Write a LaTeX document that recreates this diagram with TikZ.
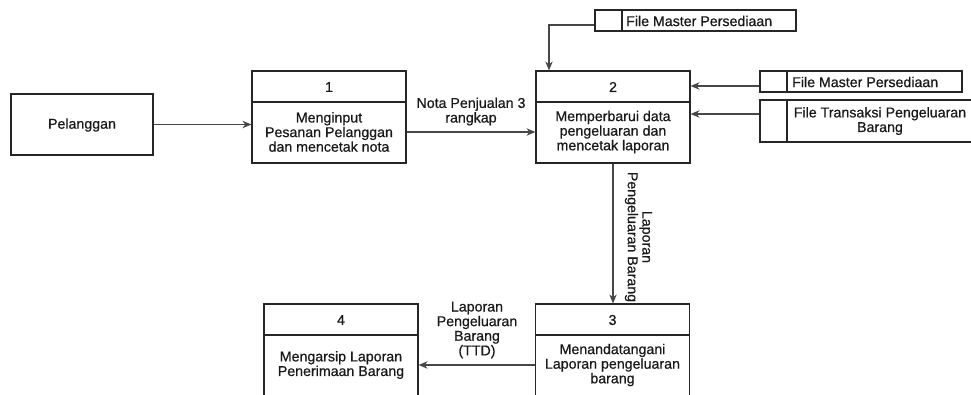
\documentclass[tikz,border=0pt]{standalone}
\usepackage{fontspec}
\setmainfont{Liberation Sans}[FakeBold=0.6]
\usetikzlibrary{arrows.meta,calc}
\tikzset{
  base/.style={font=\fontsize{14.2}{14.6}\selectfont, text=black!90, inner sep=0pt},
  boxline/.style={draw=black!85, line width=1.2pt},
  proc/.style={boxline, rectangle, minimum width=154pt, minimum height=92pt, inner sep=0pt},
  ext/.style={boxline, rectangle, minimum width=142pt, minimum height=61pt, inner sep=0pt},
  store/.style={boxline, rectangle, inner sep=0pt},
  lbl/.style={base, align=center},
  conn/.style={draw=black!72, line width=1.1pt, -{Stealth[length=9pt,width=7.5pt]}}
}
\begin{document}
\begin{tikzpicture}[x=1pt,y=-1pt]
\clip (0,0) rectangle (971,394);
\fill[white] (0,0) rectangle (971,394);

% external entity
\node[ext] (pel) at (82,124.5) {};
\node[lbl] (pelt) at (82,125) {Pelanggan};

% process 1
\node[proc] (p1) at (329,117) {};
\draw[boxline] (252,102) -- (406,102);
\node[lbl] (p1n) at (329,87) {1};
\node[lbl] (p1b) at (329,132) {Menginput\\Pesanan Pelanggan\\dan mencetak nota};

% process 2
\node[proc] (p2) at (613,117) {};
\draw[boxline] (536,102) -- (690,102);
\node[lbl] (p2n) at (613,87) {2};
\node[lbl] (p2b) at (613,132) {Memperbarui data\\pengeluaran dan\\mencetak laporan};

% process 3 (cut at bottom)
\node[proc, minimum height=94pt] (p3) at (612.5,351) {};
\draw[boxline] (535,335) -- (690,335);
\node[lbl] (p3n) at (612.5,320) {3};
\node[lbl] (p3b) at (612.5,365) {Menandatangani\\Laporan pengeluaran\\barang};

% process 4 (cut at bottom)
\node[proc, minimum height=94pt] (p4) at (341,351) {};
\draw[boxline] (264,335) -- (418,335);
\node[lbl] (p4n) at (341,320) {4};
\node[lbl] (p4b) at (341,365) {Mengarsip Laporan\\Penerimaan Barang};

% data stores
\node[store, minimum width=201pt, minimum height=21pt] (s1) at (695.5,20.5) {};
\draw[boxline] (622,10) -- (622,31);
\node[base, anchor=west] (s1t) at (626,21) {File Master Persediaan};

\node[store, minimum width=202pt, minimum height=21pt] (s2) at (861,81.5) {};
\draw[boxline] (787,71) -- (787,92);
\node[base, anchor=west] (s2t) at (792,82) {File Master Persediaan};

\node[store, minimum width=220pt, minimum height=42pt] (s3) at (870,121) {};
\draw[boxline] (787,100) -- (787,142);
\node[lbl] (s3t) at (880,121) {File Transaksi Pengeluaran\\Barang};

% connectors
\draw[conn] (pel.east) -- (pel.east -| p1.west);
\draw[conn] (p1b -| p1.east) -- (p1b -| p2.west)
  node[lbl, midway, above=6pt] (l1) {Nota Penjualan 3\\rangkap};
\coordinate (c1) at ($(s1.west)+(0,4.5)$);
\coordinate (c2) at (549,25);
\draw[conn] (c1) -- (c2) -- (c2 |- p2.north);
\draw[conn] ($(s2.west)+(0,4.5)$) -- ($(s2.west -| p2.east)+(0,4.5)$);
\draw[conn] ($(s3.west)+(0,-7)$) -- ($(s3.west -| p2.east)+(0,-7)$);
\draw[conn] (p2.south) -- (p2.south |- p3.north);
\node[lbl, rotate=-90] (l2) at (638.5,237) {Laporan\\Pengeluaran Barang};
\draw[conn] (p3b -| p3.west) -- (p3b -| p4.east);
\node[lbl] (l3) at (477,330) {Laporan\\Pengeluaran\\Barang\\(TTD)};
\end{tikzpicture}
\end{document}
